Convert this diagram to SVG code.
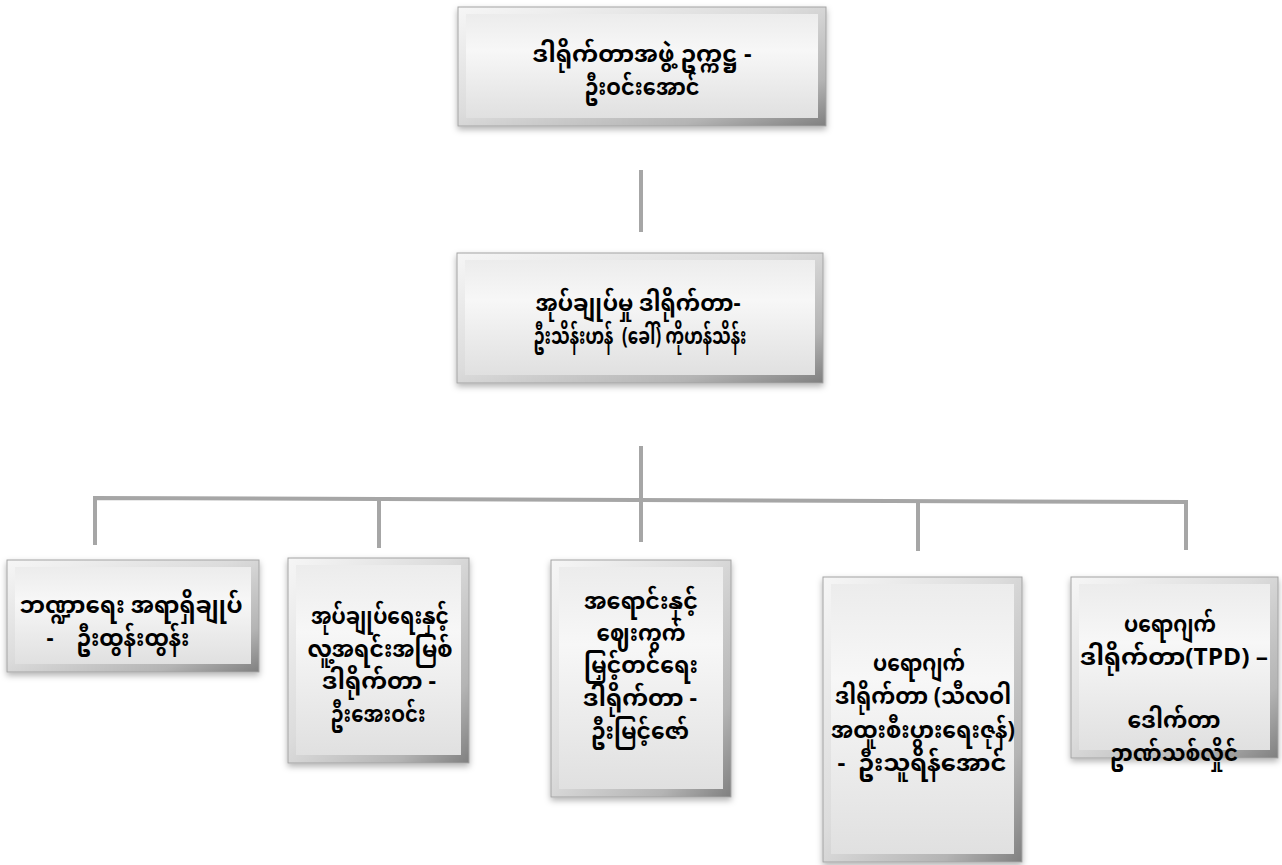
<svg xmlns="http://www.w3.org/2000/svg" width="1282" height="865" viewBox="0 0 1282 865">
<style>
.edge{fill:url(#edgeGrad);stroke:#a4a4a4;stroke-width:1;filter:url(#sh)}
.face{fill:url(#faceGrad)}
.t{font-family:"Noto Sans Myanmar","Myanmar Text","Padauk","Noto Sans",sans-serif;font-size:24px;font-weight:bold;fill:#000;text-anchor:middle;dominant-baseline:middle}
.c{stroke:#a6a6a6;stroke-width:4;fill:none}
</style>
<defs>
<linearGradient id="edgeGrad" x1="0" y1="0" x2="1" y2="1">
<stop offset="0" stop-color="#f6f6f6"/>
<stop offset="0.45" stop-color="#dcdcdc"/>
<stop offset="0.8" stop-color="#b4b4b4"/>
<stop offset="1" stop-color="#808080"/>
</linearGradient>
<linearGradient id="faceGrad" x1="0" y1="0" x2="0" y2="1">
<stop offset="0" stop-color="#ececec"/>
<stop offset="0.35" stop-color="#f7f7f7"/>
<stop offset="1" stop-color="#e0e0e0"/>
</linearGradient>
<filter id="sh" x="-10%" y="-10%" width="120%" height="130%">
<feDropShadow dx="0" dy="3" stdDeviation="3" flood-color="#000" flood-opacity="0.3"/>
</filter>
</defs>
<rect width="1282" height="865" fill="#fff"/>
<g id="connectors">
<line class="c" x1="641" y1="170" x2="641" y2="232"/>
<line class="c" x1="641" y1="446" x2="641" y2="542"/>
<polyline class="c" points="95,545 95,498 1186,502 1186,550"/>
<line class="c" x1="379" y1="498" x2="379" y2="548"/>
<line class="c" x1="918" y1="501" x2="918" y2="551"/>
</g>
<g id="n-top">
<rect class="edge" x="458" y="7" width="368" height="119"/>
<rect class="face" x="466" y="14" width="352" height="104"/>
<text class="t" x="642" y="56" textLength="219" lengthAdjust="spacingAndGlyphs">ဒါရိုက်တာအဖွဲ့ ဥက္ကဋ္ဌ -</text>
<text class="t" x="642" y="89" textLength="115" lengthAdjust="spacingAndGlyphs">ဦးဝင်းအောင်</text>
</g>
<g id="n-md">
<rect class="edge" x="457" y="253" width="366" height="130"/>
<rect class="face" x="465" y="260" width="350" height="115"/>
<text class="t" x="638" y="305" textLength="205" lengthAdjust="spacingAndGlyphs">အုပ်ချုပ်မှု ဒါရိုက်တာ-</text>
<text class="t" x="640" y="338" textLength="213" lengthAdjust="spacingAndGlyphs" xml:space="preserve">ဦးသိန်းဟန်  (ခေါ်) ကိုဟန်သိန်း</text>
</g>
<g id="n-fin">
<rect class="edge" x="7" y="560" width="252" height="112"/>
<rect class="face" x="15" y="567" width="236" height="97"/>
<text class="t" x="131" y="607" textLength="223" lengthAdjust="spacingAndGlyphs">ဘဏ္ဍာရေး အရာရှိချုပ်</text>
<text class="t" x="118" y="640" textLength="143" lengthAdjust="spacingAndGlyphs" xml:space="preserve">-    ဦးထွန်းထွန်း</text>
</g>
<g id="n-admin">
<rect class="edge" x="288" y="558" width="181" height="205"/>
<rect class="face" x="296" y="565" width="165" height="190"/>
<text class="t" x="380" y="618" textLength="138" lengthAdjust="spacingAndGlyphs">အုပ်ချုပ်ရေးနှင့်</text>
<text class="t" x="380" y="651" textLength="145" lengthAdjust="spacingAndGlyphs">လူ့အရင်းအမြစ်</text>
<text class="t" x="379" y="683" textLength="114" lengthAdjust="spacingAndGlyphs">ဒါရိုက်တာ -</text>
<text class="t" x="378" y="716" textLength="95" lengthAdjust="spacingAndGlyphs">ဦးအေးဝင်း</text>
</g>
<g id="n-sales">
<rect class="edge" x="551" y="560" width="180" height="237"/>
<rect class="face" x="559" y="567" width="164" height="222"/>
<text class="t" x="641" y="603" textLength="114" lengthAdjust="spacingAndGlyphs">အရောင်းနှင့်</text>
<text class="t" x="641" y="635" textLength="89" lengthAdjust="spacingAndGlyphs">ဈေးကွက်</text>
<text class="t" x="641" y="667" textLength="114" lengthAdjust="spacingAndGlyphs">မြှင့်တင်ရေး</text>
<text class="t" x="640" y="700" textLength="114" lengthAdjust="spacingAndGlyphs">ဒါရိုက်တာ -</text>
<text class="t" x="640" y="733" textLength="98" lengthAdjust="spacingAndGlyphs">ဦးမြင့်ဇော်</text>
</g>
<g id="n-project">
<rect class="edge" x="823" y="577" width="199" height="285"/>
<rect class="face" x="831" y="584" width="183" height="270"/>
<text class="t" x="919" y="665" textLength="92" lengthAdjust="spacingAndGlyphs">ပရောဂျက်</text>
<text class="t" x="923" y="698" textLength="176" lengthAdjust="spacingAndGlyphs">ဒါရိုက်တာ (သီလဝါ</text>
<text class="t" x="923" y="732" textLength="184" lengthAdjust="spacingAndGlyphs">အထူးစီးပွားရေးဇုန်)</text>
<text class="t" x="922" y="765" textLength="169" lengthAdjust="spacingAndGlyphs" xml:space="preserve">-  ဦးသူရိန်အောင်</text>
</g>
<g id="n-tpd">
<rect class="edge" x="1071" y="577" width="207" height="181"/>
<rect class="face" x="1079" y="584" width="191" height="166"/>
<text class="t" x="1170" y="626" textLength="92" lengthAdjust="spacingAndGlyphs">ပရောဂျက်</text>
<text class="t" x="1174" y="659" textLength="188" lengthAdjust="spacingAndGlyphs">ဒါရိုက်တာ(TPD) –</text>
<text class="t" x="1174" y="722" textLength="93" lengthAdjust="spacingAndGlyphs">ဒေါက်တာ</text>
<text class="t" x="1174" y="755" textLength="128" lengthAdjust="spacingAndGlyphs">ဥာဏ်သစ်လှိုင်</text>
</g>
</svg>
